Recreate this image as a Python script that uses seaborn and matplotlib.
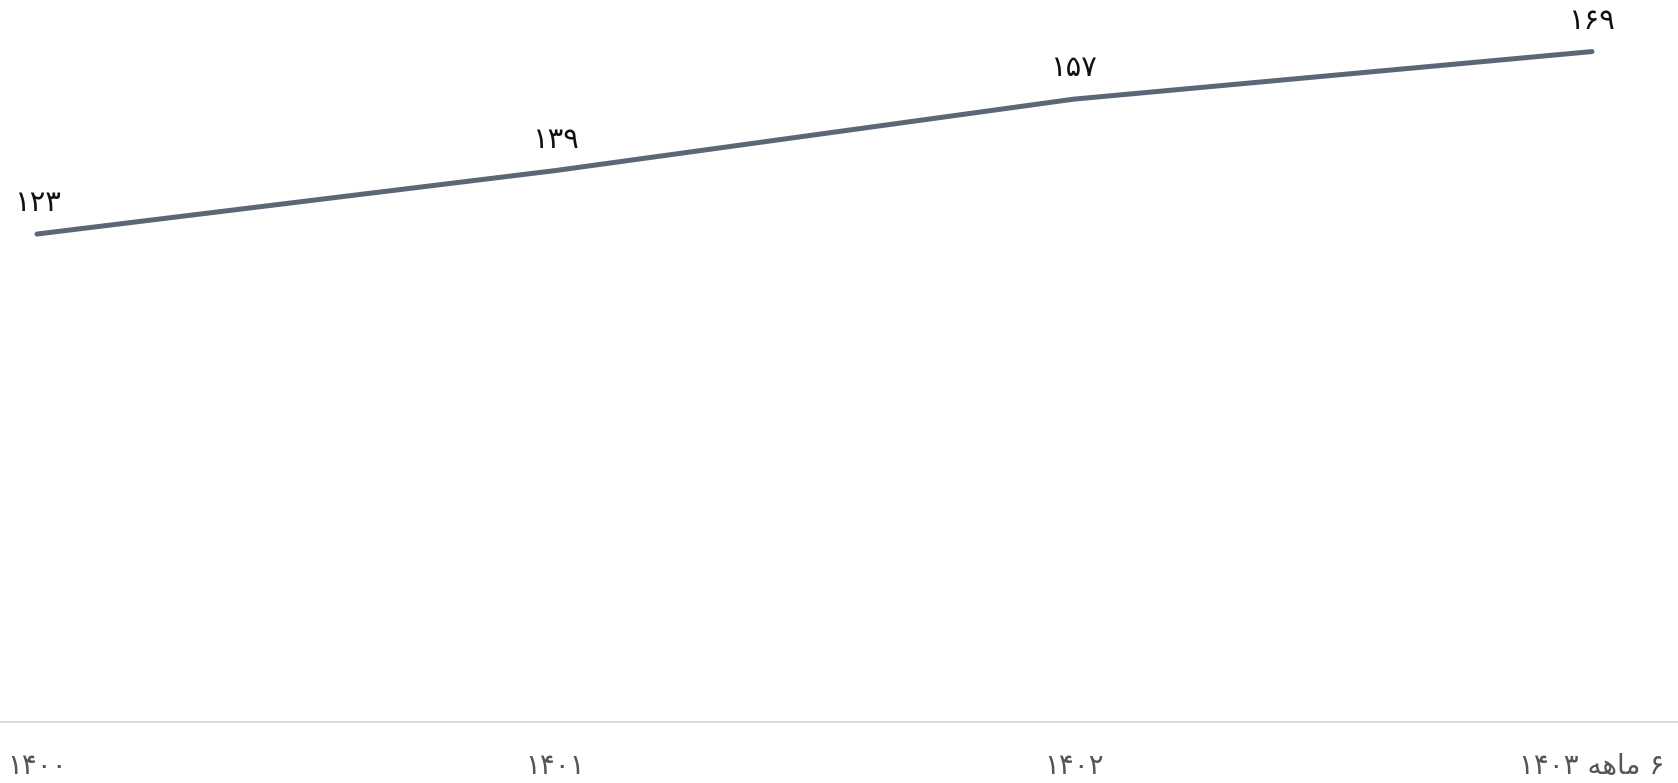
#!/usr/bin/env python3

# Line chart of yearly values, Persian labels

import matplotlib
matplotlib.use("Agg")
import matplotlib.pyplot as plt
import seaborn as sns
import pandas as pd

years = ["۱۴۰۰", "۱۴۰۱", "۱۴۰۲", "۶ ماهه ۱۴۰۳"]
values = [123, 139, 157, 169]
value_labels = ["۱۲۳", "۱۳۹", "۱۵۷", "۱۶۹"]

# contextual forms (isolated, final, initial, medial) for the letters we need
FORMS = {
    "م": ("\ufee1", "\ufee2", "\ufee3", "\ufee4"),
    "ا": ("\ufe8d", "\ufe8e", None, None),
    "ه": ("\ufee9", "\ufeea", "\ufeeb", "\ufeec"),
}


def shape_word(word):
    if not any(c in FORMS for c in word):
        return word
    out = []
    for i, ch in enumerate(word):
        f = FORMS[ch]
        prev_joins = i > 0 and FORMS[word[i - 1]][2] is not None
        has_next = i < len(word) - 1
        can_left = f[2] is not None
        if prev_joins and has_next and can_left:
            out.append(f[3])
        elif prev_joins:
            out.append(f[1])
        elif has_next and can_left:
            out.append(f[2])
        else:
            out.append(f[0])
    return "".join(reversed(out))


def visual(s):
    # matplotlib draws left to right, so flip the word order for RTL text
    return " ".join(shape_word(w) for w in reversed(s.split(" ")))


def main():
    df = pd.DataFrame({"x": range(len(years)), "Value": values})

    sns.set_style("white")
    plt.rcParams["font.family"] = ["DejaVu Sans"]

    fig = plt.figure(figsize=(16.78, 7.83), dpi=100)
    ax = fig.add_axes([0, 0.078, 1, 0.922])
    sns.lineplot(data=df, x="x", y="Value", color="#5b6776", linewidth=3.6,
                 solid_capstyle="round", ax=ax)

    for x, y, lab in zip(df["x"], df["Value"], value_labels):
        ax.annotate(lab, (x, y), xytext=(0, 12), textcoords="offset points",
                    ha="center", va="bottom", fontsize=21, color="#111111")

    ax.set_xlim(-0.0714, 3.166)
    ax.set_ylim(0, 182)
    ax.set_xticks(range(len(years)))
    ax.set_xticklabels([visual(y) for y in years], fontsize=20, color="#555555")
    ax.tick_params(axis="x", length=0, pad=22)
    ax.set_yticks([])
    ax.set_xlabel("")
    ax.set_ylabel("")
    for side in ["top", "left", "right"]:
        ax.spines[side].set_visible(False)
    ax.spines["bottom"].set_color("#d9d9d9")
    ax.spines["bottom"].set_linewidth(1.5)

    fig.savefig("out.png", dpi=100)


if __name__ == "__main__":
    main()
